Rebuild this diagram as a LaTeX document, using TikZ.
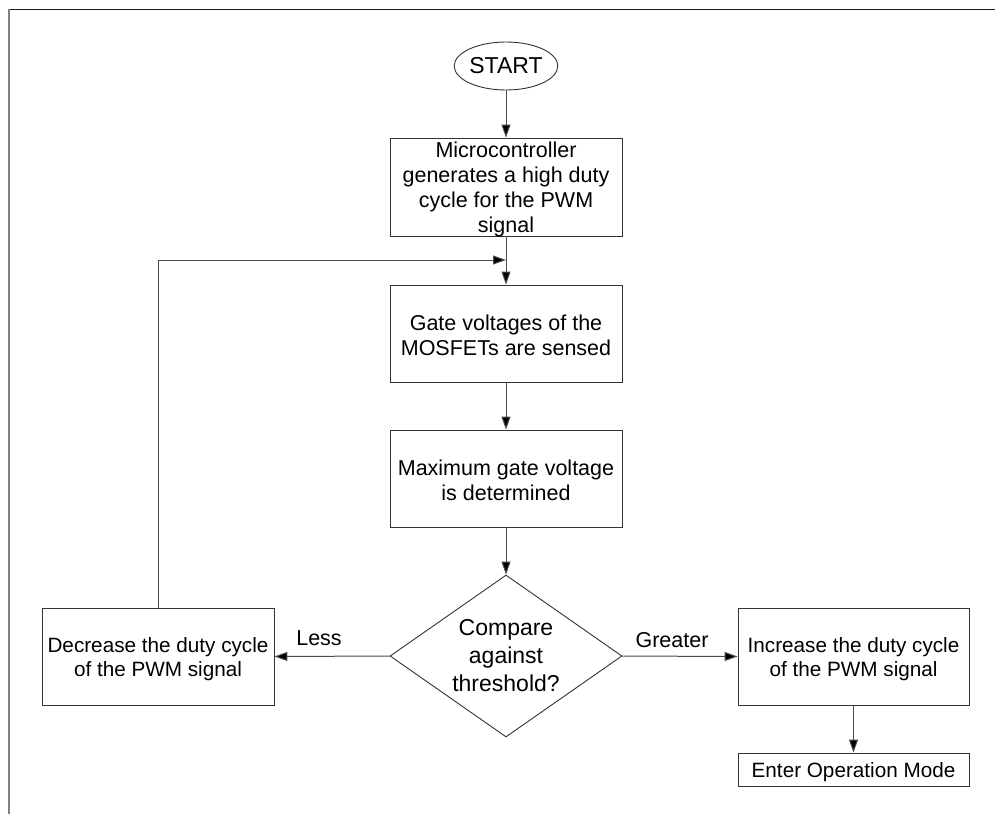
\documentclass[tikz,border=0pt]{standalone}
\usepackage{fontspec}
\setmainfont{Liberation Sans}
\usetikzlibrary{shapes.geometric,arrows.meta}
\begin{document}
\begin{tikzpicture}[x=1pt,y=-1pt,
  every node/.style={font=\fontsize{21.5}{25.5}\selectfont},
  box/.style={draw=black!80, line width=0.9pt, rectangle, minimum width=232pt, minimum height=97pt, inner sep=0pt},
  txt/.style={label={[align=center, inner sep=0pt, yshift=-2pt]center:{#1}}},
  txtb/.style={label={[align=center, inner sep=0pt, yshift=-2.5pt, font=\fontsize{21.5}{24.8}\selectfont]center:{#1}}},
  stxt/.style={label={[align=center, inner sep=0pt, yshift=-2.5pt, font=\fontsize{20.7}{24.5}\selectfont]center:{#1}}},
  decision/.style={draw=black!80, line width=0.9pt, diamond, aspect=1.43, minimum width=232pt, minimum height=162pt, inner sep=0pt, align=center, font=\fontsize{23}{28}\selectfont},
  terminal/.style={draw=black!80, line width=0.9pt, ellipse, minimum width=84pt, minimum height=48pt, inner sep=0pt, font=\fontsize{23}{28}\selectfont},
  arr/.style={draw=black!70, line width=1pt, -{Triangle[length=13pt,width=9pt,fill=black]}},
  lbl/.style={inner sep=0pt}
]
\useasboundingbox (0,0) rectangle (995,814);
\draw[black!90, line width=1pt] (8,9) -- (995,9);
\draw[black!50, line width=1.2pt] (9,9) -- (9,814);

\node[terminal] (start) at (506,66) {START};
\node[box, minimum height=98pt, txtb={Microcontroller\\generates a high duty\\cycle for the PWM\\signal}] (b1) at (506,187) {};
\node[box, txt={Gate voltages of the\\MOSFETs are sensed}] (b2) at (506,333.5) {};
\node[box, txt={Maximum gate voltage\\is determined}] (b3) at (506,478.5) {};
\node[decision] (dia) at (506,656) {Compare\\against\\threshold?};
\node[box, stxt={Decrease the duty cycle\\of the PWM signal}] (lb) at (158,656.5) {};
\node[box, minimum width=231pt, stxt={Increase the duty cycle\\of the PWM signal}] (rb) at (853.5,656.5) {};
\node[box, minimum width=231pt, minimum height=33pt, stxt={Enter Operation Mode}] (eb) at (853.5,769.5) {};

\node[lbl] (less) at (319,638) {Less};
\node[lbl] (greater) at (672,640) {Greater};

\coordinate (join) at (506,260);

\draw[arr] (start) -- (b1);
\draw[arr] (b1) -- (b2);
\draw[arr] (b2) -- (b3);
\draw[arr] (b3) -- (dia);
\draw[arr] (dia.west) -- (lb.east);
\draw[arr] (dia.east) -- (rb.west);
\draw[arr] (rb) -- (eb);
\draw[arr] (lb.north) |- (join);
\end{tikzpicture}
\end{document}
